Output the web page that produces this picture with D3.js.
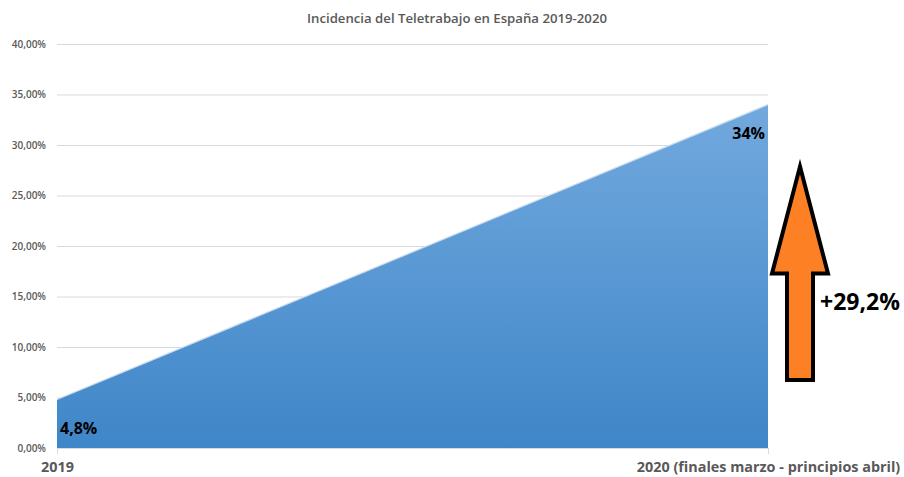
<!DOCTYPE html>
<html>
<head>
<meta charset="utf-8">
<script src="https://cdn.jsdelivr.net/npm/d3@7"></script>
<style>
  body { margin: 0; background: #fff; }
  text { font-family: "Open Sans", "Noto Sans", sans-serif; }
  .grid line { stroke: #d9d9d9; }
  .grid .domain { display: none; }
</style>
</head>
<body>
<div id="chart"></div>
<script>
// datos
const categories = ['2019', '2020 (finales marzo - principios abril)'];
const values = [4.8, 34];
const valueLabels = ['4,8%', '34%'];
const yTicks = [0, 5, 10, 15, 20, 25, 30, 35, 40];
const diffLabel = '+29,2%';

const svg_width = 904;
const svg_height = 477;
const margin = { top: 44, right: 136, bottom: 29, left: 57 };
const chart_width = svg_width - margin.left - margin.right;
const chart_height = svg_height - margin.top - margin.bottom;

const svg = d3.select('#chart').append('svg')
  .attr('width', svg_width).attr('height', svg_height);
const g = svg.append('g').attr('transform', `translate(${margin.left},${margin.top})`);

const xScale = d3.scalePoint().domain(categories).range([0, chart_width]);
const yScale = d3.scaleLinear().domain([0, 40]).range([chart_height, 0]);

const fmt = d => d3.format('.2f')(d).replace('.', ',') + '%';

// grid + eje y
const yAxis = d3.axisLeft(yScale).tickValues(yTicks).tickFormat(fmt)
  .tickSize(-chart_width).tickPadding(11);
const yAxisDraw = g.append('g').attr('class', 'grid').call(yAxis);
yAxisDraw.selectAll('text')
  .style('font-size', '10px').style('fill', '#595959').style('font-weight', 600);

// gradiente
const defs = svg.append('defs');
const grad = defs.append('linearGradient').attr('id', 'areaGrad')
  .attr('x1', 0).attr('y1', 0).attr('x2', 0).attr('y2', 1);
grad.append('stop').attr('offset', '0%').attr('stop-color', '#72a9de');
grad.append('stop').attr('offset', '100%').attr('stop-color', '#3f86c8');

const data = categories.map((c, i) => ({ cat: c, value: values[i], label: valueLabels[i] }));

const area = d3.area()
  .x(d => xScale(d.cat))
  .y0(chart_height)
  .y1(d => yScale(d.value));

g.append('path').datum(data)
  .attr('d', area)
  .attr('fill', 'url(#areaGrad)');

g.append('path').datum(data)
  .attr('d', d3.line().x(d => xScale(d.cat)).y(d => yScale(d.value)))
  .attr('fill', 'none').attr('stroke', '#c9dcef').attr('stroke-width', 1.2);

// eje x
const xAxis = d3.axisBottom(xScale).tickSizeInner(6).tickSizeOuter(0).tickPadding(8);
const xAxisDraw = g.append('g').attr('transform', `translate(0,${chart_height})`).call(xAxis);
xAxisDraw.select('.domain').attr('stroke', '#d9d9d9');
xAxisDraw.selectAll('.tick line').attr('stroke', '#d9d9d9');
xAxisDraw.selectAll('text')
  .style('font-size', '14.4px').style('font-weight', 'bold').style('fill', '#595959');

// etiquetas de valores
g.append('text')
  .attr('x', xScale(categories[0]) + 3)
  .attr('y', chart_height - 14)
  .text(data[0].label)
  .style('font-size', '16px').style('font-weight', 'bold').style('fill', '#000');
g.append('text')
  .attr('x', xScale(categories[1]) - 3)
  .attr('y', yScale(values[1]) + 34)
  .attr('text-anchor', 'end')
  .text(data[1].label)
  .style('font-size', '16px').style('font-weight', 'bold').style('fill', '#000');

// flecha
const ax = xScale(categories[1]) + 32;
const yTop = yScale(values[1]) + 62;
const yBot = chart_height - 68;
const headY = yTop + 107;
const arrow = d3.path();
arrow.moveTo(ax, yTop);
arrow.lineTo(ax + 28, headY);
arrow.lineTo(ax + 13, headY);
arrow.lineTo(ax + 13, yBot);
arrow.lineTo(ax - 13, yBot);
arrow.lineTo(ax - 13, headY);
arrow.lineTo(ax - 28, headY);
arrow.closePath();
g.append('path').attr('d', arrow.toString())
  .attr('fill', '#fd8124').attr('stroke', '#000').attr('stroke-width', 4)
  .attr('stroke-linejoin', 'miter');

g.append('text')
  .attr('x', ax + 20)
  .attr('y', yScale(13.7))
  .text(diffLabel)
  .style('font-size', '23px').style('font-weight', 'bold').style('fill', '#000');

// titulo
svg.append('text')
  .attr('x', 457).attr('y', 23)
  .attr('text-anchor', 'middle')
  .text('Incidencia del Teletrabajo en España 2019-2020')
  .style('font-size', '13.2px').style('font-weight', 600).style('fill', '#595959');
</script>
</body>
</html>
